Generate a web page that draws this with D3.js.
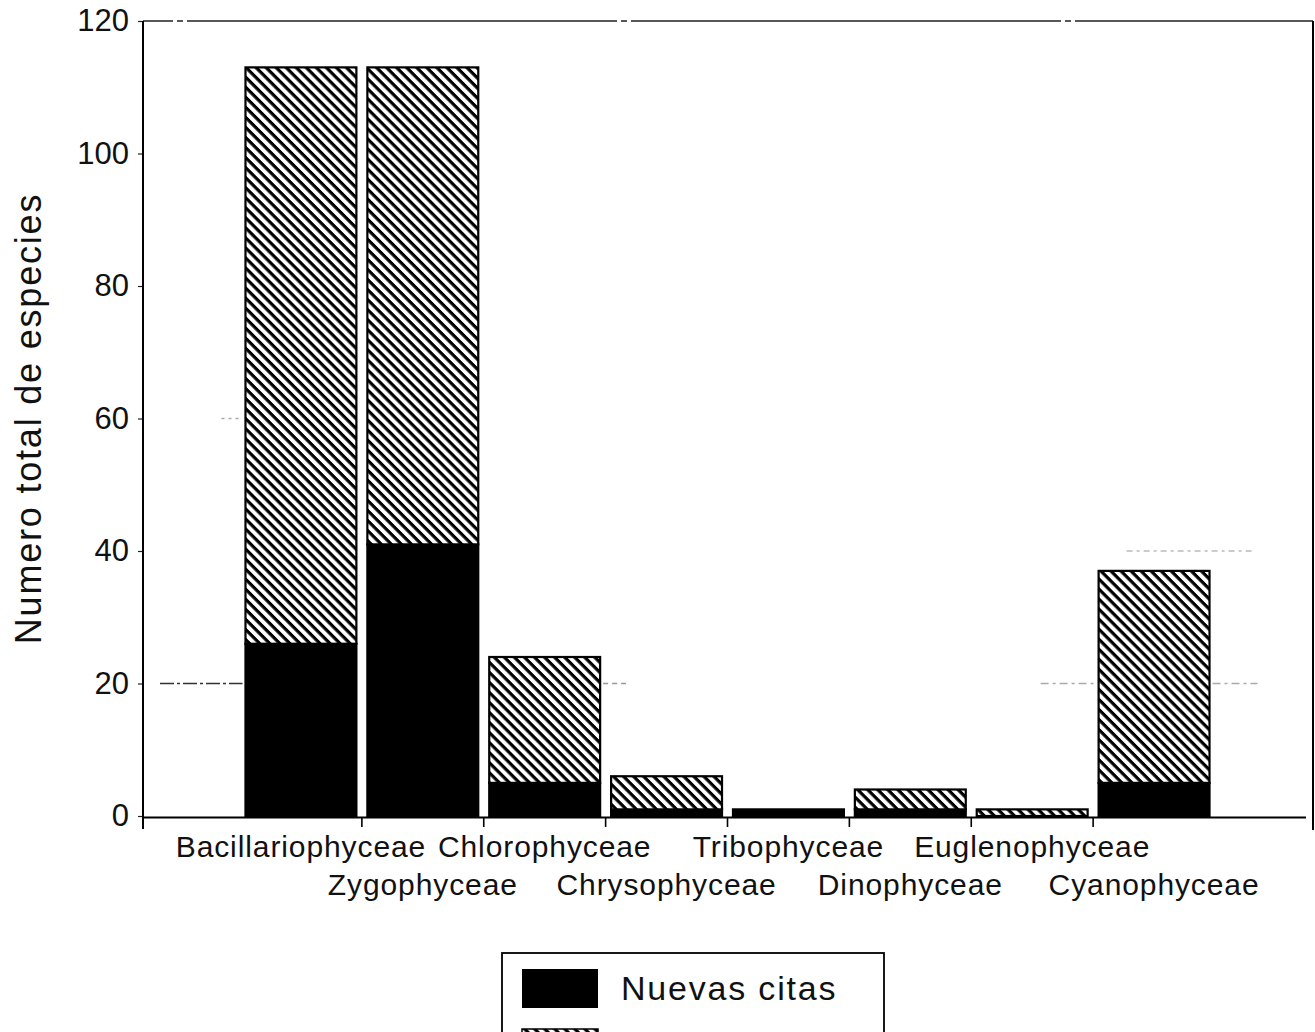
<!DOCTYPE html>
<html>
<head>
<meta charset="utf-8">
<script src="https://cdn.jsdelivr.net/npm/d3@7"></script>
<style>
  html, body { margin: 0; padding: 0; background: #fff; }
  svg { display: block; }
  text { font-family: "Liberation Sans", Arial, Helvetica, sans-serif; fill: #111; }
</style>
</head>
<body>
<svg id="chart" width="1315" height="1032"></svg>
<script>
// Species counts per algal class
const categories = ["Bacillariophyceae", "Zygophyceae", "Chlorophyceae", "Chrysophyceae",
                    "Tribophyceae", "Dinophyceae", "Euglenophyceae", "Cyanophyceae"];
const totalSpecies = [113, 113, 24, 6, 1, 4, 1, 37];
const nuevasCitas  = [26, 41, 5, 1, 1, 1, 0, 5];
const yTicks = [0, 20, 40, 60, 80, 100, 120];
const yLabel = "Numero total de especies";
const legendLabel = "Nuevas citas";

const svg = d3.select("#chart");
const W = 1315, H = 1032;
svg.append("rect").attr("width", W).attr("height", H).attr("fill", "#fff");

// Diagonal hatching for the remaining (previously known) species
const defs = svg.append("defs");
const P = 7.1;
const pat = defs.append("pattern")
  .attr("id", "hatch")
  .attr("patternUnits", "userSpaceOnUse")
  .attr("width", P).attr("height", P)
  .attr("patternTransform", "rotate(45)");
pat.append("rect").attr("width", P).attr("height", P).attr("fill", "#fff");
pat.append("rect").attr("width", P).attr("height", 3.2).attr("fill", "#000");

const axisX = 143, axisRight = 1313;
const y = d3.scaleLinear().domain([0, 120]).range([816, 21]);
const x = d3.scaleBand().domain(categories).range([240, 1215])
  .paddingInner(0.09).paddingOuter(0.045);

// Stacked data: new records at the base, the rest hatched above
const rows = categories.map((c, i) => ({
  cat: c, nuevas: nuevasCitas[i], resto: totalSpecies[i] - nuevasCitas[i]
}));
const stack = d3.stack().keys(["nuevas", "resto"]);
const series = stack(rows);

// Faint remnants of the grid
const gridG = svg.append("g");
function gridSeg(v, x1, x2, col, dash) {
  gridG.append("line")
    .attr("x1", x1).attr("x2", x2).attr("y1", y(v)).attr("y2", y(v))
    .attr("stroke", col).attr("stroke-width", 1.3)
    .attr("stroke-dasharray", dash);
}
const b0 = x(categories[0]);
const b2 = x(categories[2]) + x.bandwidth();
const b7 = x(categories[7]);
gridSeg(20, axisX + 17, b0 - 3, "#333", "14,3,3,3");
gridSeg(20, b2 + 3, b2 + 28, "#999", "5,4");
gridSeg(20, b7 - 58, b7 - 4, "#aaa", "8,4,3,4");
gridSeg(20, b7 + x.bandwidth() + 3, b7 + x.bandwidth() + 48, "#aaa", "8,4,3,4");
gridSeg(40, b7 + 28, b7 + x.bandwidth() + 45, "#bbb", "6,4,3,4");
gridSeg(60, b0 - 24, b0 - 6, "#aaa", "3,4");

// Bars
const layerFill = ["#000", "url(#hatch)"];
series.forEach((s, li) => {
  svg.append("g").selectAll("rect")
    .data(s.filter(d => d[1] - d[0] > 0))
    .join("rect")
    .attr("x", d => x(d.data.cat))
    .attr("width", x.bandwidth())
    .attr("y", d => y(d[1]))
    .attr("height", d => y(d[0]) - y(d[1]))
    .attr("fill", layerFill[li])
    .attr("stroke", "#000")
    .attr("stroke-width", 2.2);
});

// Frame: top and right edges
svg.append("line").attr("x1", axisX).attr("x2", axisRight)
  .attr("y1", y(120)).attr("y2", y(120))
  .attr("stroke", "#222").attr("stroke-width", 1.5)
  .attr("stroke-dasharray", "30,4,6,4,400,0");
svg.append("line").attr("x1", axisRight).attr("x2", axisRight)
  .attr("y1", y(120)).attr("y2", 830)
  .attr("stroke", "#000").attr("stroke-width", 2);

// Y axis
const yAxis = d3.axisLeft(y).tickValues(yTicks).tickSize(5).tickPadding(9);
const gy = svg.append("g").attr("transform", `translate(${axisX},0)`).call(yAxis);
gy.select(".domain").remove();
gy.selectAll(".tick line").attr("stroke", "#222").attr("stroke-width", 1.2);
gy.selectAll(".tick text")
  .attr("font-size", 31).attr("fill", "#111")
  .style("font-family", '"Liberation Sans", Arial, sans-serif');
svg.append("line").attr("x1", axisX).attr("x2", axisX)
  .attr("y1", y(120)).attr("y2", 829)
  .attr("stroke", "#000").attr("stroke-width", 2);

// X axis baseline with ticks between the bars
svg.append("line").attr("x1", axisX).attr("x2", 1306)
  .attr("y1", y(0) + 1.5).attr("y2", y(0) + 1.5)
  .attr("stroke", "#000").attr("stroke-width", 2);
const sepTicks = categories.slice(0, -1).map(c =>
  x(c) + x.bandwidth() + (x.step() - x.bandwidth()) / 2);
svg.append("g").selectAll("line").data(sepTicks).join("line")
  .attr("x1", d => d).attr("x2", d => d)
  .attr("y1", y(0) + 2).attr("y2", y(0) + 11)
  .attr("stroke", "#000").attr("stroke-width", 1.6);

// Category labels on two staggered rows
svg.append("g").selectAll("text").data(categories).join("text")
  .attr("x", d => x(d) + x.bandwidth() / 2)
  .attr("y", (d, i) => i % 2 === 0 ? 857 : 895)
  .attr("text-anchor", "middle")
  .attr("font-size", 30)
  .attr("letter-spacing", "0.9px")
  .text(d => d);

// Y axis title
svg.append("text")
  .attr("transform", `translate(41,${(y(0) + y(120)) / 2}) rotate(-90)`)
  .attr("text-anchor", "middle")
  .attr("font-size", 36)
  .attr("letter-spacing", "1.8px")
  .text(yLabel);

// Legend
const lg = svg.append("g");
lg.append("rect").attr("x", 502).attr("y", 953).attr("width", 382).attr("height", 130)
  .attr("fill", "#fff").attr("stroke", "#000").attr("stroke-width", 1.8);
lg.append("rect").attr("x", 522).attr("y", 969).attr("width", 76).attr("height", 39)
  .attr("fill", "#000");
lg.append("text").attr("x", 621).attr("y", 1000)
  .attr("font-size", 34).attr("letter-spacing", "1.8px")
  .text(legendLabel);
lg.append("rect").attr("x", 522).attr("y", 1029).attr("width", 76).attr("height", 39)
  .attr("fill", "url(#hatch)").attr("stroke", "#000").attr("stroke-width", 1.5);
</script>
</body>
</html>
